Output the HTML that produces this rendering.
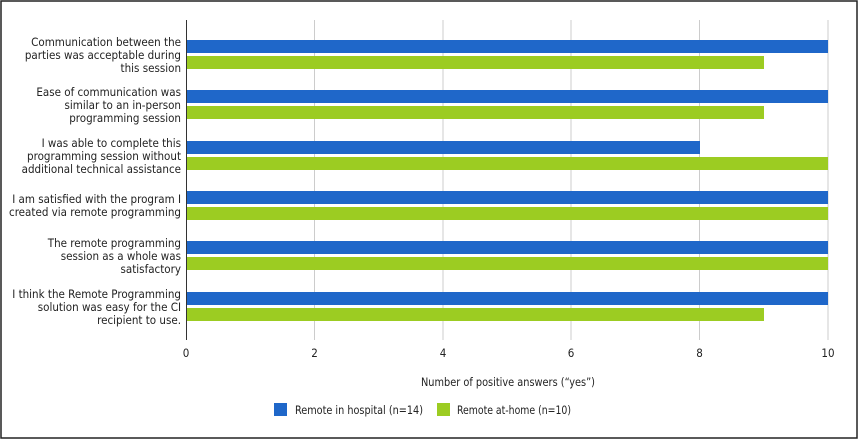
<!DOCTYPE html><html><head><style>body{margin:0;background:#fff}</style></head><body>
<svg width="859" height="440" xmlns="http://www.w3.org/2000/svg" font-family="'DejaVu Sans Condensed','Liberation Sans',sans-serif" font-size="11.5" fill="#222">
<rect x="1" y="1" width="856" height="437" fill="#fff" stroke="#222" stroke-width="1.5"/>
<g stroke="#ccc" stroke-width="1">
<line x1="314.5" y1="20" x2="314.5" y2="340"/><line x1="443" y1="20" x2="443" y2="340"/><line x1="571" y1="20" x2="571" y2="340"/><line x1="699.5" y1="20" x2="699.5" y2="340"/><line x1="828" y1="20" x2="828" y2="340"/>
</g>
<line x1="186.5" y1="20" x2="186.5" y2="340" stroke="#333"/>
<g>
<rect x="187" y="40" width="641" height="13" fill="#1f67c9"/><rect x="187" y="56" width="577" height="13" fill="#9ccc22"/>
<rect x="187" y="90" width="641" height="13" fill="#1f67c9"/><rect x="187" y="106" width="577" height="13" fill="#9ccc22"/>
<rect x="187" y="141" width="513" height="13" fill="#1f67c9"/><rect x="187" y="157" width="641" height="13" fill="#9ccc22"/>
<rect x="187" y="191" width="641" height="13" fill="#1f67c9"/><rect x="187" y="207" width="641" height="13" fill="#9ccc22"/>
<rect x="187" y="241" width="641" height="13" fill="#1f67c9"/><rect x="187" y="257" width="641" height="13" fill="#9ccc22"/>
<rect x="187" y="292" width="641" height="13" fill="#1f67c9"/><rect x="187" y="308" width="577" height="13" fill="#9ccc22"/>
</g>
<g text-anchor="end">
<text x="181" y="46">Communication between the</text><text x="181" y="59">parties was acceptable during</text><text x="181" y="72">this session</text>
<text x="181" y="96">Ease of communication was</text><text x="181" y="109">similar to an in-person</text><text x="181" y="122">programming session</text>
<text x="181" y="147">I was able to complete this</text><text x="181" y="160">programming session without</text><text x="181" y="173">additional technical assistance</text>
<text x="181" y="203">I am satisfied with the program I</text><text x="181" y="216">created via remote programming</text>
<text x="181" y="247">The remote programming</text><text x="181" y="260">session as a whole was</text><text x="181" y="273">satisfactory</text>
<text x="181" y="298">I think the Remote Programming</text><text x="181" y="311">solution was easy for the CI</text><text x="181" y="324">recipient to use.</text>
</g>
<g text-anchor="middle">
<text x="186" y="357">0</text><text x="314.5" y="357">2</text><text x="443" y="357">4</text><text x="571" y="357">6</text><text x="699.5" y="357">8</text><text x="828" y="357">10</text>
</g>
<text x="421" y="386" textLength="174" lengthAdjust="spacingAndGlyphs">Number of positive answers (“yes”)</text>
<rect x="274" y="403" width="13" height="13" fill="#1f67c9"/><text x="295" y="414" textLength="128" lengthAdjust="spacingAndGlyphs">Remote in hospital (n=14)</text>
<rect x="437" y="403" width="13" height="13" fill="#9ccc22"/><text x="457" y="414" textLength="114" lengthAdjust="spacingAndGlyphs">Remote at-home (n=10)</text>
</svg></body></html>
